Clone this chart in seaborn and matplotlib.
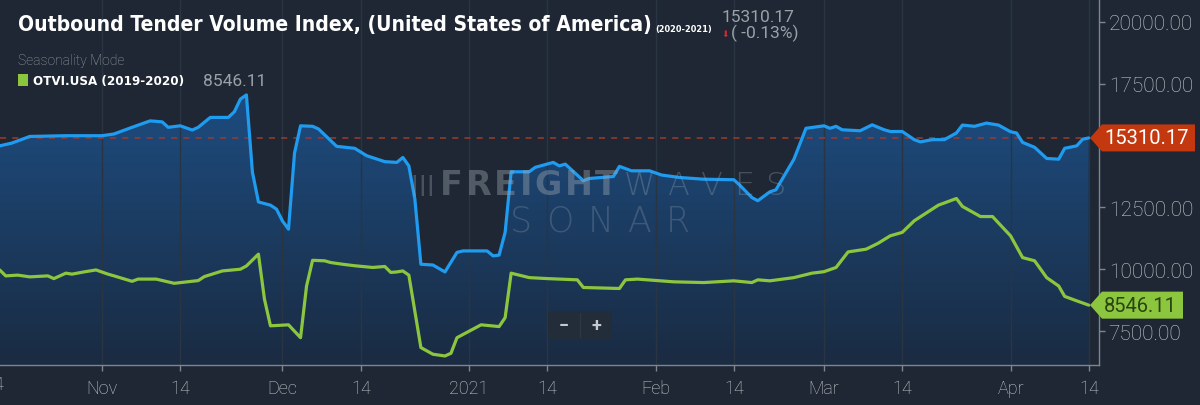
import numpy as np
import pandas as pd
import matplotlib
matplotlib.use("Agg")
import matplotlib.pyplot as plt
import matplotlib.dates as mdates
from matplotlib import font_manager
from matplotlib.patches import Polygon, FancyBboxPatch
from matplotlib.colors import LinearSegmentedColormap
from matplotlib.transforms import blended_transform_factory
import seaborn as sns

# ---------------- data ----------------
blue_dates = ["2020-10-15", "2020-10-17", "2020-10-20", "2020-10-26", "2020-11-01", "2020-11-03",
              "2020-11-06", "2020-11-09", "2020-11-11", "2020-11-12", "2020-11-14", "2020-11-16",
              "2020-11-17", "2020-11-19", "2020-11-22", "2020-11-23", "2020-11-24", "2020-11-25",
              "2020-11-26", "2020-11-27", "2020-11-29", "2020-11-30", "2020-12-01", "2020-12-02",
              "2020-12-03", "2020-12-04", "2020-12-06", "2020-12-07", "2020-12-10", "2020-12-13",
              "2020-12-15", "2020-12-18", "2020-12-20", "2020-12-21", "2020-12-22", "2020-12-23",
              "2020-12-24", "2020-12-26", "2020-12-28", "2020-12-30", "2020-12-31", "2021-01-04",
              "2021-01-05", "2021-01-06", "2021-01-07", "2021-01-08", "2021-01-11", "2021-01-12",
              "2021-01-15", "2021-01-16", "2021-01-17", "2021-01-20", "2021-01-21", "2021-01-25",
              "2021-01-26", "2021-01-28", "2021-01-31", "2021-02-02", "2021-02-05", "2021-02-09",
              "2021-02-14", "2021-02-15", "2021-02-17", "2021-02-18", "2021-02-20", "2021-02-21",
              "2021-02-24", "2021-02-26", "2021-03-01", "2021-03-02", "2021-03-03", "2021-03-04",
              "2021-03-07", "2021-03-09", "2021-03-11", "2021-03-12", "2021-03-14", "2021-03-16",
              "2021-03-17", "2021-03-19", "2021-03-21", "2021-03-23", "2021-03-24", "2021-03-26",
              "2021-03-28", "2021-03-30", "2021-04-01", "2021-04-02", "2021-04-03", "2021-04-05",
              "2021-04-07", "2021-04-09", "2021-04-10", "2021-04-12", "2021-04-13", "2021-04-14"]
blue_values = [14990, 15100, 15370, 15400, 15400, 15470,
               15740, 16000, 15960, 15740, 15800, 15630,
               15740, 16140, 16140, 16370, 16880, 17050,
               13930, 12720, 12590, 12430, 11950, 11620,
               14700, 15800, 15780, 15670, 14970, 14890,
               14590, 14350, 14320, 14520, 14180, 12830,
               10200, 10170, 9890, 10680, 10740, 10740,
               10540, 10570, 11490, 13940, 13940, 14120,
               14320, 14180, 14250, 13580, 13670, 13750,
               14160, 13980, 13980, 13810, 13710, 13640,
               13620, 13400, 12900, 12770, 13130, 13210,
               14450, 15700, 15800, 15700, 15780, 15640,
               15600, 15840, 15640, 15570, 15570, 15240,
               15150, 15240, 15240, 15510, 15830, 15780,
               15910, 15830, 15560, 15510, 15130, 14930,
               14480, 14450, 14890, 14990, 15260, 15310.17]

green_dates = ["2020-10-15", "2020-10-16", "2020-10-18", "2020-10-20", "2020-10-23", "2020-10-24",
               "2020-10-26", "2020-10-27", "2020-10-29", "2020-10-31", "2020-11-02", "2020-11-03",
               "2020-11-06", "2020-11-07", "2020-11-10", "2020-11-13", "2020-11-17", "2020-11-18",
               "2020-11-21", "2020-11-24", "2020-11-25", "2020-11-27", "2020-11-28", "2020-11-29",
               "2020-12-02", "2020-12-04", "2020-12-05", "2020-12-06", "2020-12-08", "2020-12-09",
               "2020-12-11", "2020-12-13", "2020-12-16", "2020-12-18", "2020-12-19", "2020-12-20",
               "2020-12-21", "2020-12-22", "2020-12-24", "2020-12-26", "2020-12-28", "2020-12-29",
               "2020-12-30", "2021-01-03", "2021-01-06", "2021-01-07", "2021-01-08", "2021-01-11",
               "2021-01-14", "2021-01-16", "2021-01-19", "2021-01-20", "2021-01-26", "2021-01-27",
               "2021-01-29", "2021-02-04", "2021-02-09", "2021-02-14", "2021-02-17", "2021-02-18",
               "2021-02-20", "2021-02-24", "2021-02-27", "2021-03-01", "2021-03-03", "2021-03-05",
               "2021-03-08", "2021-03-10", "2021-03-12", "2021-03-14", "2021-03-16", "2021-03-20",
               "2021-03-23", "2021-03-24", "2021-03-27", "2021-03-29", "2021-04-01", "2021-04-03",
               "2021-04-05", "2021-04-07", "2021-04-09", "2021-04-10", "2021-04-12", "2021-04-14"]
green_values = [9970, 9730, 9760, 9690, 9730, 9620,
                9840, 9800, 9890, 9970, 9800, 9730,
                9510, 9600, 9600, 9430, 9540, 9700,
                9930, 10000, 10130, 10610, 8790, 7710,
                7750, 7230, 9320, 10360, 10340, 10270,
                10200, 10140, 10070, 10110, 9870, 9890,
                9930, 9760, 6830, 6560, 6490, 6600,
                7230, 7750, 7680, 8040, 9840, 9660,
                9620, 9600, 9570, 9260, 9220, 9570,
                9600, 9490, 9460, 9530, 9460, 9570,
                9530, 9660, 9840, 9900, 10070, 10700,
                10810, 11050, 11350, 11490, 11960, 12590,
                12860, 12540, 12130, 12130, 11350, 10470,
                10340, 9660, 9320, 8900, 8720, 8546.11]

title_text = "Outbound Tender Volume Index, (United States of America)"
title_period = "(2020-2021)"
legend_label = "OTVI.USA (2019-2020)"
change_text = "( -0.13%)"
y_ticks = [7500, 10000, 12500, 15000, 17500, 20000]
x_tick_dates = ["2020-10-14", "2020-11-01", "2020-11-14", "2020-12-01", "2020-12-14", "2021-01-01",
                "2021-01-14", "2021-02-01", "2021-02-14", "2021-03-01", "2021-03-14", "2021-04-01",
                "2021-04-14"]
x_tick_labels = ["14", "Nov", "14", "Dec", "14", "2021", "14", "Feb", "14", "Mar", "14", "Apr", "14"]

# ---------------- style ----------------
BG = "#1e2733"
BLUE = "#1f9bf0"
GREEN = "#8cc63f"
RED = "#c4380f"
TICK = "#c9cdd2"

sns.set_theme(style="dark")


def find_condensed_bold():
    for f in font_manager.fontManager.ttflist:
        n = (f.name + " " + f.fname).lower()
        if ("condensed" in n or "narrow" in n) and f.weight in ("bold", 700) and "oblique" not in n \
                and "italic" not in n:
            return f.fname
    return None


def has_font(name):
    try:
        font_manager.findfont(font_manager.FontProperties(family=name), fallback_to_default=False)
        return True
    except Exception:
        return False


MAIN = "Roboto" if has_font("Roboto") else "DejaVu Sans"
plt.rcParams["font.family"] = [MAIN, "DejaVu Sans"]
cond = find_condensed_bold()
if cond:
    BOLD_FP = dict(fontproperties=font_manager.FontProperties(fname=cond))
else:
    BOLD_FP = dict(family=[MAIN, "DejaVu Sans"], fontweight="bold")

W, H = 1200, 406
fig = plt.figure(figsize=(W / 100, H / 100), dpi=100, facecolor=BG)
ax_l, ax_r, ax_b = 0, 1099, 366
ax = fig.add_axes([ax_l / W, 1 - ax_b / H, (ax_r - ax_l) / W, ax_b / H])
ax.set_facecolor(BG)

blue_df = pd.DataFrame({"date": pd.to_datetime(blue_dates), "value": blue_values})
green_df = pd.DataFrame({"date": pd.to_datetime(green_dates), "value": green_values})

y_lo, y_hi = 6125, 20930
x_lo = pd.Timestamp("2020-11-01") - pd.Timedelta(days=16.95)
x_hi = pd.Timestamp("2020-11-01") + pd.Timedelta(days=165.7)

# gradient fill under blue line
poly = ax.fill_between(blue_df["date"], blue_df["value"], y_lo, color="none", lw=0)
cmap = LinearSegmentedColormap.from_list("g", ["#1a2b42", "#1e5896"])
grad = np.linspace(0, 1, 256).reshape(-1, 1)
im = ax.imshow(grad, extent=[mdates.date2num(x_lo), mdates.date2num(x_hi), y_lo, y_hi],
               aspect="auto", cmap=cmap, origin="lower", zorder=1)
im.set_clip_path(poly.get_paths()[0], transform=ax.transData)

# vertical grid
for d in x_tick_dates:
    ax.axvline(pd.Timestamp(d), color="#2a3543", lw=1, zorder=1.5)

# dashed last-value line
ax.hlines(blue_values[-1], x_lo, blue_df["date"].iloc[-1], colors="#9c3b2c",
          linestyles=(0, (4, 4)), lw=1.1, zorder=2)

sns.lineplot(data=green_df, x="date", y="value", ax=ax, color=GREEN, linewidth=2.3, zorder=3)
sns.lineplot(data=blue_df, x="date", y="value", ax=ax, color=BLUE, linewidth=2.3, zorder=4)

ax.set_xlim(x_lo, x_hi)
ax.set_ylim(y_lo, y_hi)
ax.set_xlabel("")
ax.set_ylabel("")

# axes / ticks
for s in ["left", "top"]:
    ax.spines[s].set_visible(False)
for s in ["right", "bottom"]:
    ax.spines[s].set_visible(True)
    ax.spines[s].set_color("#7d8590")
    ax.spines[s].set_linewidth(1)
ax.yaxis.tick_right()
ax.set_yticks(y_ticks)
# the 15000 label sits under the last-value tag in the reference
ax.set_yticklabels(["" if v == 15000 else f"{v:.2f}" for v in y_ticks])
ax.set_xticks(pd.to_datetime(x_tick_dates[1:]))
ax.set_xticklabels(x_tick_labels[1:])
ax.tick_params(axis="y", colors="#7d8590", labelcolor=TICK, labelsize=15, length=4, width=1,
               direction="out", pad=3, right=True, left=False)
ax.tick_params(axis="x", colors="#7d8590", labelcolor=TICK, labelsize=13, length=4, width=1,
               direction="out", pad=6, bottom=True)
for lab in ax.get_yticklabels() + ax.get_xticklabels():
    lab.set_fontweight("light")
ax.grid(False)

# partially visible first tick label (Oct 14), cut by the figure edge
trans_xb = blended_transform_factory(ax.transData, ax.transAxes)
ax.text(pd.Timestamp(x_tick_dates[0]), -0.052, x_tick_labels[0], transform=trans_xb,
        ha="center", va="center", color=TICK, fontsize=13, fontweight="light", clip_on=False)

# last-value tags
trans_tag = blended_transform_factory(ax.transAxes, ax.transData)
axw = ax_r - ax_l
half = 13.5 / ax_b * (y_hi - y_lo)


def value_tag(value, fc, tc, right_px):
    tip = (1090 - ax_l) / axw
    body = (1102 - ax_l) / axw
    right = (right_px - ax_l) / axw
    pts = [(tip, value), (body, value + half), (right, value + half), (right, value - half),
           (body, value - half)]
    ax.add_patch(Polygon(pts, closed=True, transform=trans_tag, fc=fc, ec="none",
                         clip_on=False, zorder=10))
    ax.text((1104 - ax_l) / axw, value, f"{value:.2f}", transform=trans_tag, ha="left",
            va="center", color=tc, fontsize=14.5, clip_on=False, zorder=11)


value_tag(blue_values[-1], RED, "#ffffff", 1195)
value_tag(green_values[-1], GREEN, "#2a4512", 1183)


# ---------------- header texts ----------------
def fx(x):
    return x / W


def fy(y):
    return 1 - y / H


renderer = fig.canvas.get_renderer()


def fit_width(t, target_px):
    w = t.get_window_extent(renderer).width
    if w > 0:
        t.set_fontsize(t.get_fontsize() * target_px / w)


t_title = fig.text(fx(18), fy(31), title_text, fontsize=17.5, color="#ffffff", va="baseline",
                   **BOLD_FP)
fit_width(t_title, 632)
t_per = fig.text(fx(655), fy(32), title_period, fontsize=7, color="#ffffff", va="baseline",
                 **BOLD_FP)
fit_width(t_per, 57)
fig.text(fx(722), fy(17), f"{blue_values[-1]:.2f}", fontsize=12.5, color="#9aa1a9",
         va="center")
fig.text(fx(721), fy(34), "\u2b07", fontsize=6.5, color="#e0242e", va="center",
         family=["DejaVu Sans"])
fig.text(fx(731), fy(33), change_text, fontsize=12.5, color="#9aa1a9", va="center")
fig.text(fx(18), fy(61), "Seasonality Mode", fontsize=10, color="#9aa1a9", va="center",
         fontweight="light")
fig.patches.append(FancyBboxPatch((fx(18), fy(87)), fx(10), 12 / H, boxstyle="square,pad=0",
                                  transform=fig.transFigure, fc=GREEN, ec="none"))
t_leg = fig.text(fx(33), fy(81), legend_label, fontsize=12, color="#ffffff", va="center",
                 **BOLD_FP)
fit_width(t_leg, 150)
fig.text(fx(203), fy(81), f"{green_values[-1]:.2f}", fontsize=12.5, color="#9aa1a9",
         va="center")

# ---------------- watermark ----------------
wm = "#9aa4ae"


def spaced_word(word, x0, x1, y, **kw):
    ts = [fig.text(fx(x0), fy(y), ch, va="center", **kw) for ch in word]
    widths = [t.get_window_extent(renderer).width for t in ts]
    gap = (x1 - x0 - sum(widths)) / max(len(word) - 1, 1)
    x = x0
    for t, w in zip(ts, widths):
        t.set_x(fx(x))
        x += w + gap


spaced_word("|||", 410, 434, 186, fontsize=15, color=wm, alpha=0.35, family=["DejaVu Sans"],
            fontweight="bold")
spaced_word("FREIGHT", 440, 618, 186, fontsize=24, color=wm, alpha=0.42, family=["DejaVu Sans"],
            fontweight="bold")
spaced_word("WAVES", 624, 786, 186, fontsize=23, color=wm, alpha=0.33, family=["DejaVu Sans"],
            fontweight="light")
spaced_word("SONAR", 510, 690, 222, fontsize=25, color=wm, alpha=0.28, family=["DejaVu Sans"],
            fontweight="light")

# ---------------- zoom control ----------------
fig.patches.append(FancyBboxPatch((fx(548), fy(340)), fx(64), 28 / H,
                                  boxstyle="round,pad=0,rounding_size=0.004",
                                  transform=fig.transFigure, fc="#232d39", ec="none"))
fig.lines.append(plt.Line2D([fx(580), fx(580)], [fy(338), fy(314)], transform=fig.transFigure,
                            color="#2c3744", lw=1))
fig.text(fx(564), fy(326), "\u2212", fontsize=13, color="#c4cad0", ha="center", va="center",
         fontweight="bold")
fig.text(fx(596), fy(326), "+", fontsize=13, color="#c4cad0", ha="center", va="center",
         fontweight="bold")

fig.savefig("out.png", dpi=100, facecolor=BG)
